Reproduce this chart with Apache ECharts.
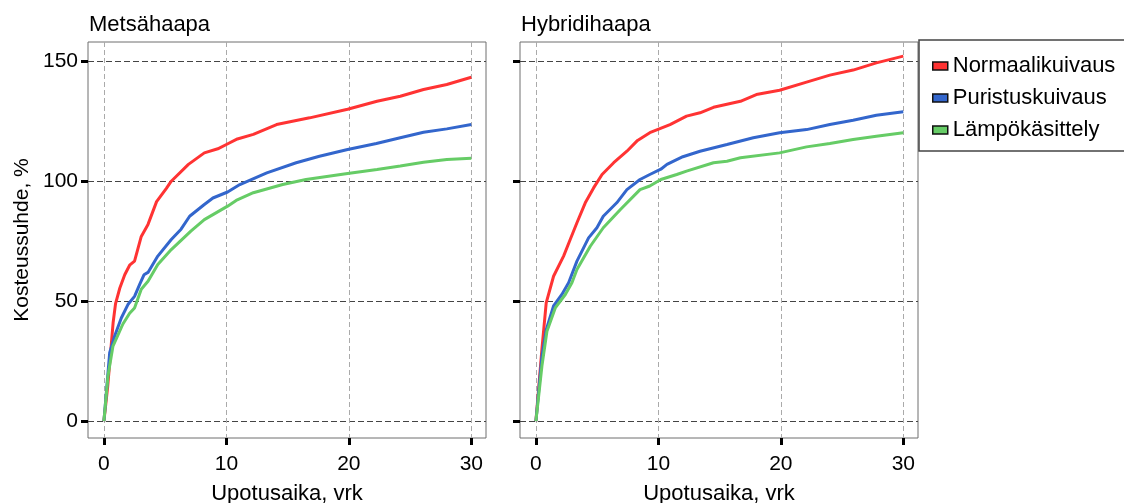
<!DOCTYPE html>
<html>
<head>
<meta charset="utf-8">
<script src="https://cdn.jsdelivr.net/npm/echarts@6/dist/echarts.min.js"></script>
<style>
  html, body { margin: 0; padding: 0; background: #fff; }
  #chart { width: 1124px; height: 503px; }
</style>
</head>
<body>
<div id="chart"></div>
<script>
// Moisture ratio (%) vs. soaking time (days), [time, value] pairs
const seriesNames = ['Normaalikuivaus', 'Puristuskuivaus', 'Lämpökäsittely'];
const panelTitles = ['Metsähaapa', 'Hybridihaapa'];
const xTicks = [0, 10, 20, 30];
const yTicks = [0, 50, 100, 150];

const metsaNormaali = [[0,0],[0.3,14],[0.5,26],[0.75,41],[0.95,49],[1.3,55.5],[1.7,61],[2.1,65],[2.5,66.7],[3.05,77],[3.6,82],[4.3,91.5],[5.1,97],[5.5,100],[6.9,107],[8.2,111.8],[9.3,113.5],[10,115.3],[10.9,117.6],[12.2,119.5],[14.1,123.6],[16.8,126.4],[19.9,130],[22.3,133.3],[24.2,135.4],[26.1,138.2],[28,140.3],[30,143.3]];
const metsaPuristus = [[0,0],[0.47,28.5],[0.87,35.4],[1.42,43],[1.96,48.6],[2.5,52],[2.92,57],[3.27,61],[3.6,62],[4.4,68.8],[5.5,75.7],[6.3,80],[7,85.4],[8.2,90.3],[8.9,93],[10.1,95.5],[11.1,98.6],[13.3,103.5],[15.7,107.7],[17.6,110.4],[19.9,113.2],[22.25,115.7],[24.2,118.1],[26.1,120.4],[28,121.8],[30,123.6]];
const metsaLampo = [[0,0],[0.33,18.8],[0.74,31.3],[1.55,40.5],[2.1,45],[2.5,47.2],[3.05,55],[3.6,58.3],[4.4,65.3],[5.5,71.5],[7.1,79.2],[8.2,84],[10.1,89.6],[10.8,92],[12.2,95.2],[14.6,98.6],[16.5,100.7],[19.9,103.2],[22.3,104.9],[24.2,106.3],[26.1,107.9],[28,109],[30,109.6]];

const hybridiNormaali = [[0,0],[0.49,30],[0.84,49.3],[1.44,60.4],[2.26,68.8],[2.8,75.7],[3.35,82.7],[4.03,91],[4.71,97.2],[5.4,102.8],[6.35,107.7],[7.43,112.5],[8.3,117],[9.3,120.2],[10.95,123.6],[12.3,127.1],[13.4,128.5],[14.5,130.8],[16.7,133.3],[18,136.1],[19.9,137.9],[22.1,141.3],[24,144.2],[25.9,146.3],[27.8,149.3],[30,152.1]];
const hybridiPuristus = [[0,0],[0.49,27],[0.84,38],[1.44,48],[2.12,52.8],[2.67,57.7],[3.35,66.7],[4.3,76.4],[4.98,80.6],[5.5,85.4],[6.6,91],[7.43,96.5],[8.5,100.7],[9.3,102.8],[10.2,105],[10.7,107],[12,110.2],[13.4,112.5],[15.6,115.3],[17.75,118.1],[19.9,120.2],[22.1,121.5],[24,123.6],[25.9,125.4],[27.8,127.5],[30,128.9]];
const hybridiLampo = [[0,0],[0.49,23],[0.9,37.5],[1.58,47.2],[2.4,52.8],[2.94,57.7],[3.35,63.2],[4.44,72.9],[5.5,80.6],[6.9,88.2],[8.5,96.5],[9.3,98],[10.2,100.7],[11.5,102.8],[12.3,104.2],[14.5,107.7],[15.6,108.3],[16.7,109.75],[19.9,111.8],[22.1,114.3],[24,115.7],[25.9,117.4],[27.8,118.75],[30,120.2]];

const colors = ['#ff3333', '#3366cc', '#66cc66'];
const FONT = "'Liberation Sans', Arial, sans-serif";

const chart = echarts.init(document.getElementById('chart'), null, { renderer: 'canvas' });

const grids = [
  { left: 88, top: 42, width: 398, height: 396 },
  { left: 520, top: 42, width: 398, height: 396 }
];

function xAxisFor(i) {
  return {
    type: 'value', gridIndex: i, min: -1.3, max: 31.2, position: 'bottom',
    name: 'Upotusaika, vrk', nameLocation: 'middle', nameGap: 45,
    nameTextStyle: { fontFamily: FONT, fontSize: 22, color: '#000' },
    axisLine: { show: false, onZero: false },
    axisTick: { show: true, customValues: xTicks, length: 7, lineStyle: { color: '#000', width: 3 } },
    axisLabel: { show: true, customValues: xTicks, margin: 16, fontFamily: FONT, fontSize: 21, color: '#000' },
    splitLine: { show: true, lineStyle: { color: '#aaaaaa', width: 1, type: [5, 3] } }
  };
}
function yAxisFor(i) {
  return {
    type: 'value', gridIndex: i, min: -7, max: 158, position: 'left',
    name: i === 0 ? 'Kosteussuhde, %' : '', nameLocation: 'middle', nameGap: 55,
    nameTextStyle: { fontFamily: FONT, fontSize: 21, color: '#000' },
    axisLine: { show: false, onZero: false },
    axisTick: { show: true, customValues: yTicks, length: 7, lineStyle: { color: '#000', width: 3 } },
    axisLabel: { show: i === 0, customValues: yTicks, margin: 10, padding: [6, 0, 0, 0], fontFamily: FONT, fontSize: 21, color: '#000' },
    splitLine: { show: true, lineStyle: { color: '#444444', width: 1, type: [6, 3] } }
  };
}

const panelData = [
  [metsaNormaali, metsaPuristus, metsaLampo],
  [hybridiNormaali, hybridiPuristus, hybridiLampo]
];

const series = [];
panelData.forEach((sets, p) => {
  sets.forEach((data, k) => {
    series.push({
      type: 'line', name: seriesNames[k], xAxisIndex: p, yAxisIndex: p,
      data: data, showSymbol: false, symbol: 'none', smooth: false,
      lineStyle: { color: colors[k], width: 3 },
      itemStyle: { color: colors[k] },
      animation: false, z: 3 + k
    });
  });
});

chart.setOption({
  animation: false,
  backgroundColor: '#ffffff',
  title: panelTitles.map((t, i) => ({
    text: t, left: grids[i].left + 1, top: 14, padding: 0,
    textStyle: { fontFamily: FONT, fontSize: 22, fontWeight: 'normal', color: '#000' }
  })),
  grid: grids.map(g => Object.assign({
    show: true, borderColor: '#6e6e6e', borderWidth: 1, backgroundColor: 'transparent',
    containLabel: false, outerBoundsMode: 'none'
  }, g)),
  xAxis: [xAxisFor(0), xAxisFor(1)],
  yAxis: [yAxisFor(0), yAxisFor(1)],
  legend: {
    orient: 'vertical', left: 919, top: 40,
    padding: [15, 40, 10, 13], itemGap: 10,
    itemWidth: 15, itemHeight: 8, icon: 'rect',
    borderColor: '#444', borderWidth: 1.5, backgroundColor: '#fff',
    data: seriesNames.map((n, k) => ({ name: n, itemStyle: { color: colors[k], borderColor: '#111', borderWidth: 1.5 } })),
    textStyle: { fontFamily: FONT, fontSize: 22, color: '#000' }
  },
  series: series
});
</script>
</body>
</html>
